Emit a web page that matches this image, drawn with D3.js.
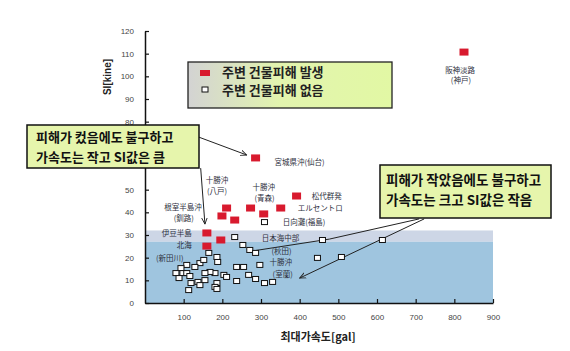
<!DOCTYPE html>
<html><head><meta charset="utf-8">
<script src="https://cdn.jsdelivr.net/npm/d3@7"></script>
<style>body{margin:0;background:#fff}svg{display:block}</style>
</head><body>
<svg id="c" width="570" height="351"></svg>
<script>
// ---- data ----
const xTicks = [100,200,300,400,500,600,700,800,900];
const yTicks = [0,10,20,30,40,50,60,70,80,90,100,110,120];
const yTicksHidden = [60,70]; // covered by the callout box in the reference
// damage (filled red) : [gal, kine]
const damageX = [825,286,211,273,351,392,307,199,232,160,196,160];
const damageY = [110.7,64.0,41.9,41.9,41.9,47.2,39.3,38.4,36.6,30.9,27.8,25.1];
// no damage (open squares)
const noDamageX = [309,232,253,271,286,165,186,188,237,255,297,268,286,309,330,237,204,211,181,168,155,142,129,108,93,80,98,108,116,88,119,137,155,142,113,186,181,186,152,459,508,614,446];
const noDamageY = [35.7,29.1,25.6,23.4,22.1,22.1,20.3,18.1,15.9,15.9,16.8,12.4,10.6,8.8,9.3,9.7,12.4,11.5,13.2,13.7,13.2,17.6,15.9,16.8,15.4,13.2,13.2,13.2,11.9,11.0,8.8,9.3,10.1,7.9,5.7,8.8,7.1,6.2,19.0,27.8,20.3,27.8,19.9];
// event labels
const labelText = ["阪神淡路","(神戸)","宮城県沖(仙台)","十勝沖","(八戸)","十勝沖","(青森)","根室半島沖","(釧路)","伊豆半島","北海","(新田川)","松代群発","エルセントロ","日向灘(福島)","日本海中部","(秋田)","十勝沖","(室蘭)"];
const labelX = [815,817,335,186,186,307,309,98,100,121,121,64,431,395,356,302,327,322,330];
const labelY = [101.5,97.0,60.9,52.9,48.1,49.8,45.0,41.0,36.2,29.6,24.3,18.5,45.9,40.6,34.4,27.3,21.6,16.8,11.5];
const labelAnchor = ["middle","middle","start","middle","middle","middle","middle","middle","middle","end","end","middle","start","start","start","start","start","start","start"];
const legendText = ["주변 건물피해 발생","주변 건물피해 없음"];
const callout1 = ["피해가 컸음에도 불구하고","가속도는 작고 SI값은 큼"];
const callout2 = ["피해가 작았음에도 불구하고","가속도는 크고 SI값은 작음"];
// leader lines in data units
const leaders = [
  {pts:[[139,73.2],[263,65.3]], arrow:true},
  {pts:[[144,59.5],[155,34.8]], arrow:true},
  {pts:[[709,37.1],[477,28.2],[276,22.9]], arrow:false},
  {pts:[[722,37.1],[400,11.0]], arrow:true}
];

// ---- chart ----
const svg = d3.select("#c");
const x = d3.scaleLinear().domain([0,900]).range([145,493]);
const y = d3.scaleLinear().domain([0,120]).range([303,31]);
const red = "#d81a2e";

const defs = svg.append("defs");
const lg = defs.append("linearGradient").attr("id","lg").attr("x1","0").attr("x2","1");
lg.append("stop").attr("offset","0").attr("stop-color","#d3d3d3");
lg.append("stop").attr("offset","0.45").attr("stop-color","#e2f4ae");
lg.append("stop").attr("offset","1").attr("stop-color","#e2f8a4");
defs.append("marker").attr("id","ah").attr("viewBox","0 0 10 10").attr("refX",9).attr("refY",5)
  .attr("markerWidth",7).attr("markerHeight",7).attr("orient","auto")
  .append("path").attr("d","M0,1 L9,5 L0,9").attr("fill","none").attr("stroke","#222").attr("stroke-width",1.3);

// shaded zones
svg.append("rect").attr("x",x(0)).attr("width",x(900)-x(0))
  .attr("y",y(32)).attr("height",y(27)-y(32)).attr("fill","#cdd6e6");
svg.append("rect").attr("x",x(0)).attr("width",x(900)-x(0))
  .attr("y",y(27)).attr("height",y(0)-y(27)).attr("fill","#9fc5df");

// axes
const gx = svg.append("g").attr("transform",`translate(0,${y(0)})`)
  .call(d3.axisBottom(x).tickValues(xTicks).tickSizeInner(-4).tickSizeOuter(0).tickPadding(11));
const gy = svg.append("g").attr("transform",`translate(${x(0)},0)`)
  .call(d3.axisLeft(y).tickValues(yTicks).tickSizeInner(-4).tickSizeOuter(0).tickPadding(11)
    .tickFormat(d=>yTicksHidden.includes(d)?"":d));
[gx,gy].forEach(g=>{
  g.select(".domain").attr("stroke","#111").attr("stroke-width",1.5);
  g.selectAll(".tick line").attr("stroke","#111").attr("stroke-width",1.2);
  g.selectAll("text").attr("font-family","Liberation Sans, Arial").attr("font-size",8).attr("fill","#444");
});

svg.append("text").attr("x",318).attr("y",341).attr("text-anchor","middle")
  .attr("font-family","Noto Sans CJK KR").attr("font-weight","bold").attr("font-size",11).attr("fill","#222")
  .text("최대가속도[gal]");
svg.append("text").attr("transform","translate(111,77) rotate(-90)").attr("text-anchor","middle")
  .attr("font-family","Liberation Sans, Arial").attr("font-weight","bold").attr("font-size",10).attr("fill","#222")
  .text("SI[kine]");

// leader lines
const line = d3.line().x(d=>x(d[0])).y(d=>y(d[1]));
svg.selectAll("path.ld").data(leaders).join("path").attr("class","ld")
  .attr("d",d=>line(d.pts)).attr("fill","none").attr("stroke","#222").attr("stroke-width",1)
  .attr("marker-end",d=>d.arrow?"url(#ah)":null);

// open squares
svg.selectAll("rect.nd").data(noDamageX.map((v,i)=>[v,noDamageY[i]])).join("rect").attr("class","nd")
  .attr("x",d=>x(d[0])-3).attr("y",d=>y(d[1])-2.5).attr("width",6).attr("height",5)
  .attr("fill","#fff").attr("stroke","#111").attr("stroke-width",1);
// red squares
svg.selectAll("rect.dm").data(damageX.map((v,i)=>[v,damageY[i]])).join("rect").attr("class","dm")
  .attr("x",d=>x(d[0])-4.5).attr("y",d=>y(d[1])-3.5).attr("width",9).attr("height",7)
  .attr("fill",red);

// event labels
svg.selectAll("text.lb").data(labelText).join("text").attr("class","lb")
  .attr("x",(d,i)=>x(labelX[i])).attr("y",(d,i)=>y(labelY[i])).attr("text-anchor",(d,i)=>labelAnchor[i])
  .attr("font-family","Noto Sans CJK JP").attr("font-size",7.5).attr("fill","#2d3040").text(d=>d);

// legend
svg.append("rect").attr("x",188).attr("y",62).attr("width",204).attr("height",46)
  .attr("fill","url(#lg)").attr("stroke","#222").attr("stroke-width",1.3);
svg.append("rect").attr("x",200).attr("y",70).attr("width",10).attr("height",6).attr("fill",red);
svg.append("rect").attr("x",202).attr("y",87).attr("width",6).attr("height",5).attr("fill","#fff").attr("stroke","#111");
svg.selectAll("text.lg").data(legendText).join("text").attr("class","lg")
  .attr("x",222).attr("y",(d,i)=>77+i*18)
  .attr("font-family","Noto Sans CJK KR").attr("font-weight","bold").attr("font-size",13).attr("fill","#222").text(d=>d);

// callouts
function callout(bx,by,bw,bh,lines,tx,ty,gap,fs){
  svg.append("rect").attr("x",bx).attr("y",by).attr("width",bw).attr("height",bh)
    .attr("fill","#e6f5ac").attr("stroke","#111").attr("stroke-width",1.5);
  svg.selectAll(null).data(lines).join("text").attr("x",tx).attr("y",(d,i)=>ty+i*gap)
    .attr("font-family","Noto Sans CJK KR").attr("font-weight","bold").attr("font-size",fs).attr("fill","#111").text(d=>d);
}
callout(27,125,172,43,callout1,36,142,19.5,13);
callout(380,165,171,53,callout2,386,185,20,13.5);
</script>
</body></html>
